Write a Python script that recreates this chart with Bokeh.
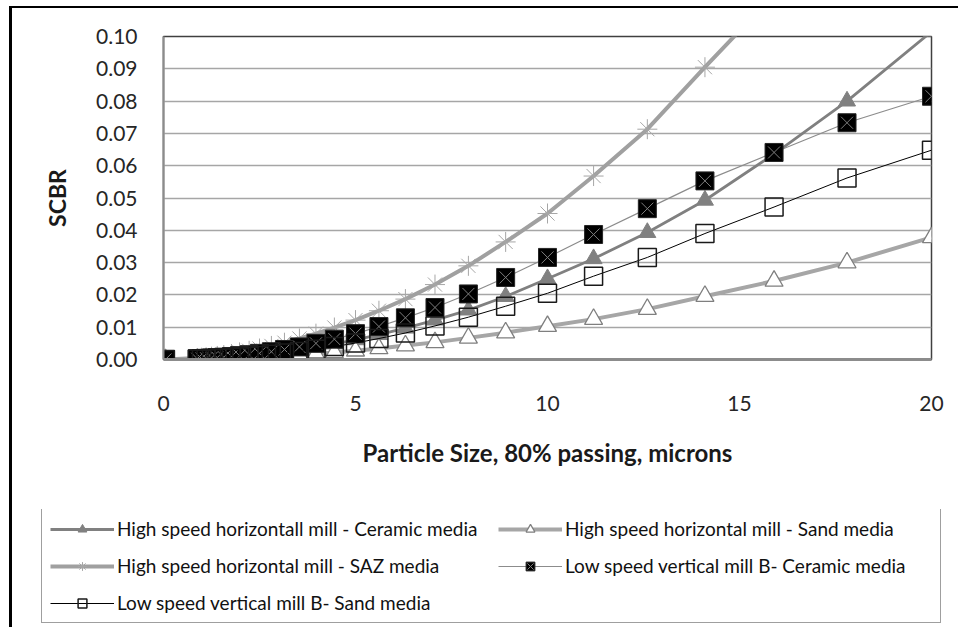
from bokeh.plotting import figure
from bokeh.models import Range1d, FixedTicker, PrintfTickFormatter, Legend, LegendItem
from bokeh.embed import file_html
from bokeh.resources import INLINE

# Particle size, 80% passing (microns)
x_size = [20.0, 17.8, 15.9, 14.1, 12.6, 11.2, 10.0, 8.91, 7.94, 7.07, 6.30, 5.61, 5.00, 4.45,
          3.97, 3.54, 3.15, 2.81, 2.50, 2.23, 1.98, 1.77, 1.57, 1.40, 1.25, 1.11, 0.99, 0.88, 0.05]

hs_ceramic = [0.1015, 0.0800, 0.0636, 0.0493, 0.0393, 0.0312, 0.0250, 0.0195, 0.0153, 0.0122,
              0.0097, 0.0077, 0.0061, 0.0048, 0.0038, 0.0030, 0.0024, 0.0019, 0.0015, 0.0012,
              0.00095, 0.00075, 0.00060, 0.00047, 0.00037, 0.00030, 0.00024, 0.00019, 0.0]
hs_sand = [0.0378, 0.0300, 0.0243, 0.0196, 0.0156, 0.0125, 0.0103, 0.0083, 0.0067, 0.0053,
           0.0043, 0.0034, 0.0027, 0.0022, 0.0017, 0.0014, 0.0011, 0.00087, 0.00069, 0.00055,
           0.00044, 0.00035, 0.00028, 0.00022, 0.00017, 0.00014, 0.00011, 0.00009, 0.0]
hs_saz = [0.178, 0.142, 0.113, 0.0905, 0.0713, 0.0568, 0.0452, 0.0364, 0.0290, 0.0232,
          0.0187, 0.0151, 0.0122, 0.0099, 0.0080, 0.0065, 0.0052, 0.0042, 0.0034, 0.0027,
          0.0022, 0.0017, 0.00137, 0.0011, 0.00087, 0.00069, 0.00055, 0.00044, 0.0]
ls_ceramic = [0.0815, 0.0733, 0.0641, 0.0553, 0.0467, 0.0387, 0.0316, 0.0254, 0.0203, 0.0161,
              0.0129, 0.0102, 0.0080, 0.0063, 0.0050, 0.0039, 0.0031, 0.0024, 0.0019, 0.0015,
              0.0012, 0.00093, 0.00073, 0.00058, 0.00046, 0.00036, 0.00029, 0.00023, 0.0]
ls_sand = [0.0648, 0.0562, 0.0472, 0.0390, 0.0316, 0.0258, 0.0205, 0.0165, 0.0131, 0.0104,
           0.0082, 0.0065, 0.0051, 0.0040, 0.0032, 0.0025, 0.0020, 0.0016, 0.0012, 0.00097,
           0.00077, 0.00061, 0.00048, 0.00038, 0.00030, 0.00024, 0.00019, 0.00015, 0.0]

series_names = ["High speed horizontall mill - Ceramic media",
                "High speed horizontal mill - Sand media",
                "High speed horizontal mill - SAZ media",
                "Low speed vertical mill B- Ceramic media",
                "Low speed vertical mill B- Sand media"]

x_ticks = [0, 5, 10, 15, 20]
y_ticks = [0.00, 0.01, 0.02, 0.03, 0.04, 0.05, 0.06, 0.07, 0.08, 0.09, 0.10]

FONT = "Lato"

# series styles: (line kwargs, list of marker kwargs)
styles = [
    (dict(line_color="#808080", line_width=2.8),
     [dict(marker="triangle", size=17, fill_color="#808080", line_color="#808080")]),
    (dict(line_color="#a6a6a6", line_width=4),
     [dict(marker="triangle", size=18, fill_color="white", line_color="#7f7f7f", line_width=1.3)]),
    (dict(line_color="#a0a0a0", line_width=4),
     [dict(marker="asterisk", size=20, line_color="#a6a6a6", line_width=1)]),
    (dict(line_color="#8c8c8c", line_width=1.2),
     [dict(marker="square", size=18, fill_color="black", line_color="#262626", line_width=1),
      dict(marker="x", size=17, line_color="#7f7f7f", line_width=1)]),
    (dict(line_color="black", line_width=1),
     [dict(marker="square", size=18, fill_alpha=0, line_color="#1a1a1a", line_width=1.5)]),
]
series_values = [hs_ceramic, hs_sand, hs_saz, ls_ceramic, ls_sand]

p = figure(width=946, height=501, frame_width=768, frame_height=323,
           min_border_left=151, min_border_right=27, min_border_top=28, min_border_bottom=150,
           x_range=Range1d(0, 20), y_range=Range1d(0, 0.10),
           output_backend="svg", toolbar_location=None)
p.styles = {"margin-top": "6px", "margin-left": "9px",
            "border-top": "2px solid black", "border-left": "3px solid black"}
p.background_fill_color = "white"
p.border_fill_color = "white"
p.outline_line_color = "#404040"
p.outline_line_width = 1.5

p.xgrid.grid_line_color = None
p.ygrid.grid_line_color = "#a6a6a6"
p.ygrid.grid_line_width = 1.5

p.xaxis.ticker = FixedTicker(ticks=x_ticks)
p.yaxis.ticker = FixedTicker(ticks=y_ticks)
p.yaxis.formatter = PrintfTickFormatter(format="%.2f")
for ax in (p.xaxis, p.yaxis):
    ax.major_tick_line_color = None
    ax.minor_tick_line_color = None
    ax.major_label_text_font = FONT
    ax.major_label_text_font_size = "21px"
    ax.major_label_text_color = "#262626"
    ax.axis_label_text_font = FONT
    ax.axis_label_text_font_style = "bold"
    ax.axis_label_text_color = "#1a1a1a"
p.xaxis.axis_label_text_font_size = "24px"
p.yaxis.axis_label_text_font_size = "23px"
p.xaxis.axis_line_color = "#8c8c8c"
p.xaxis.axis_line_width = 3
p.yaxis.axis_line_color = "#8c8c8c"
p.yaxis.axis_line_width = 2
p.xaxis.major_label_standoff = 30
p.yaxis.major_label_standoff = 20
p.xaxis.axis_label = "Particle Size, 80% passing, microns"
p.yaxis.axis_label = "SCBR"
p.xaxis.axis_label_standoff = 24
p.yaxis.axis_label_standoff = 22

for vals, (lkw, mkws) in zip(series_values, styles):
    p.line(x_size, vals, **lkw)
    for mkw in mkws:
        p.scatter(x_size, vals, **mkw)

# Legend on its own canvas below the chart (its glyph renderers sit outside its visible range)
lg = figure(width=946, height=118, min_border=0, x_range=Range1d(100, 101), y_range=Range1d(100, 101),
            x_axis_location=None, y_axis_location=None,
            output_backend="svg", toolbar_location=None)
lg.styles = {"margin-left": "9px", "border-left": "3px solid black"}
lg.grid.grid_line_color = None
lg.outline_line_color = None
lg.background_fill_color = "white"
lg.border_fill_color = "white"

items = []
for name, vals, (lkw, mkws) in zip(series_names, series_values, styles):
    rs = [lg.line(x_size, vals, **lkw)]
    for mkw in mkws:
        rs.append(lg.scatter(x_size, vals, **mkw))
    items.append(LegendItem(label=name, renderers=rs))

leg = Legend(items=items, location=(29, 4), orientation="horizontal", ncols=2,
             label_text_font=FONT, label_text_font_size="19px", label_text_color="#111111",
             glyph_width=64, glyph_height=22, label_height=22, label_width=367,
             label_standoff=3, spacing=14, padding=8, margin=0,
             border_line_color="#404040", border_line_width=1.5,
             background_fill_color="white")
lg.add_layout(leg, "center")

open("out.html", "w").write(file_html([p, lg], INLINE))
